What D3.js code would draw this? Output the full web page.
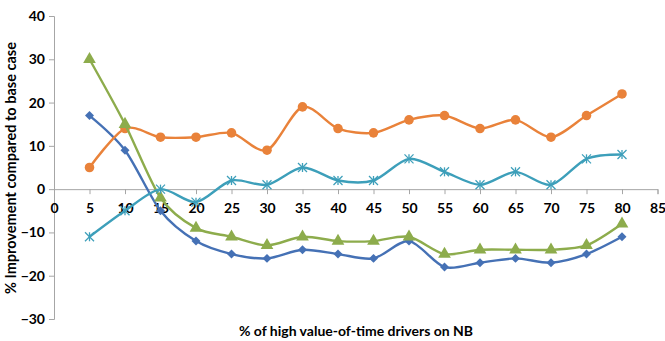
<!DOCTYPE html>
<html>
<head>
<meta charset="utf-8">
<script src="https://cdn.jsdelivr.net/npm/d3@7"></script>
<style>
  html, body { margin: 0; padding: 0; background: #fff; }
  svg { display: block; }
  text { font-family: Lato, "Open Sans", sans-serif; font-weight: bold; fill: #000; }
</style>
</head>
<body>
<svg id="chart" width="665" height="341"></svg>
<script>
// Share of high value-of-time drivers on NB (%)
const xValues = [5, 10, 15, 20, 25, 30, 35, 40, 45, 50, 55, 60, 65, 70, 75, 80];

// % improvement compared to base case, one array per scenario
const seriesBlue   = [17, 9, -5, -12, -15, -16, -14, -15, -16, -12, -18, -17, -16, -17, -15, -11];
const seriesOrange = [5, 14, 12, 12, 13, 9, 19, 14, 13, 16, 17, 14, 16, 12, 17, 22];
const seriesGreen  = [30, 15, -2, -9, -11, -13, -11, -12, -12, -11, -15, -14, -14, -14, -13, -8];
const seriesTeal   = [-11, -5, 0, -3, 2, 1, 5, 2, 2, 7, 4, 1, 4, 1, 7, 8];

const xTicks = [0, 5, 10, 15, 20, 25, 30, 35, 40, 45, 50, 55, 60, 65, 70, 75, 80, 85];
const yTicks = [-30, -20, -10, 0, 10, 20, 30, 40];

const xTitle = "% of high value-of-time drivers on NB";
const yTitle = "% Improvement compared to base case";

const svg = d3.select("#chart");

const x = d3.scaleLinear().domain([0, 85]).range([54, 657.5]);
const y = d3.scaleLinear().domain([-30, 40]).range([319, 16]);

const axisColor = "#a6a6a6";

// y axis on the left
const yAxis = svg.append("g")
  .attr("transform", `translate(${x(0)},0)`)
  .call(d3.axisLeft(y).tickValues(yTicks).tickSize(5).tickPadding(4));
yAxis.select(".domain").attr("stroke", axisColor).attr("stroke-width", 1);
yAxis.selectAll(".tick line").attr("stroke", axisColor);
yAxis.selectAll(".tick text")
  .attr("font-size", 14).attr("font-family", "Lato, sans-serif").attr("font-weight", "bold").attr("fill", "#000");

// x axis crossing at zero
const xAxis = svg.append("g")
  .attr("transform", `translate(0,${y(0)})`)
  .call(d3.axisBottom(x).tickValues(xTicks).tickSize(5).tickPadding(9));
xAxis.select(".domain").attr("stroke", axisColor).attr("stroke-width", 1);
xAxis.selectAll(".tick line").attr("stroke", axisColor);
xAxis.selectAll(".tick text")
  .attr("font-size", 14).attr("font-family", "Lato, sans-serif").attr("font-weight", "bold").attr("fill", "#000");

// Axis titles
svg.append("text")
  .attr("x", 356).attr("y", 336)
  .attr("text-anchor", "middle")
  .attr("font-size", 14)
  .text(xTitle);

svg.append("text")
  .attr("transform", "translate(16,168) rotate(-90)")
  .attr("text-anchor", "middle")
  .attr("font-size", 14.5)
  .text(yTitle);

const line = d3.line()
  .x(d => x(d[0]))
  .y(d => y(d[1]))
  .curve(d3.curveCardinal.tension(0.15));

const series = [
  { values: seriesBlue,   color: "#4571b5", marker: "diamond",         size: 40 },
  { values: seriesOrange, color: "#e9823a", marker: d3.symbolCircle,   size: 72 },
  { values: seriesGreen,  color: "#8dac4c", marker: d3.symbolTriangle, size: 70 },
  { values: seriesTeal,   color: "#3d9fba", marker: "star",            size: 0 }
];

series.forEach(s => {
  const pts = xValues.map((v, i) => [v, s.values[i]]);
  const g = svg.append("g");
  g.append("path")
    .attr("d", line(pts))
    .attr("fill", "none")
    .attr("stroke", s.color)
    .attr("stroke-width", 2.4);

  if (s.marker === "star") {
    // asterisk-style marker: three crossing strokes
    const r = 4.5;
    pts.forEach(p => {
      const cx = x(p[0]), cy = y(p[1]);
      const m = g.append("g").attr("transform", `translate(${cx},${cy})`)
        .attr("stroke", s.color).attr("stroke-width", 1.3);
      m.append("line").attr("x1", -r).attr("y1", -r).attr("x2", r).attr("y2", r);
      m.append("line").attr("x1", -r).attr("y1", r).attr("x2", r).attr("y2", -r);
      m.append("line").attr("x1", 0).attr("y1", -r).attr("x2", 0).attr("y2", r);
    });
  } else if (s.marker === "diamond") {
    // square diamond: a square turned 45 degrees
    g.selectAll("path.m")
      .data(pts)
      .join("path")
      .attr("class", "m")
      .attr("transform", p => `translate(${x(p[0])},${y(p[1])}) rotate(45)`)
      .attr("d", d3.symbol().type(d3.symbolSquare).size(s.size))
      .attr("fill", s.color);
  } else {
    g.selectAll("path.m")
      .data(pts)
      .join("path")
      .attr("class", "m")
      .attr("transform", p => `translate(${x(p[0])},${y(p[1])})`)
      .attr("d", d3.symbol().type(s.marker).size(s.size))
      .attr("fill", s.color);
  }
});
</script>
</body>
</html>
